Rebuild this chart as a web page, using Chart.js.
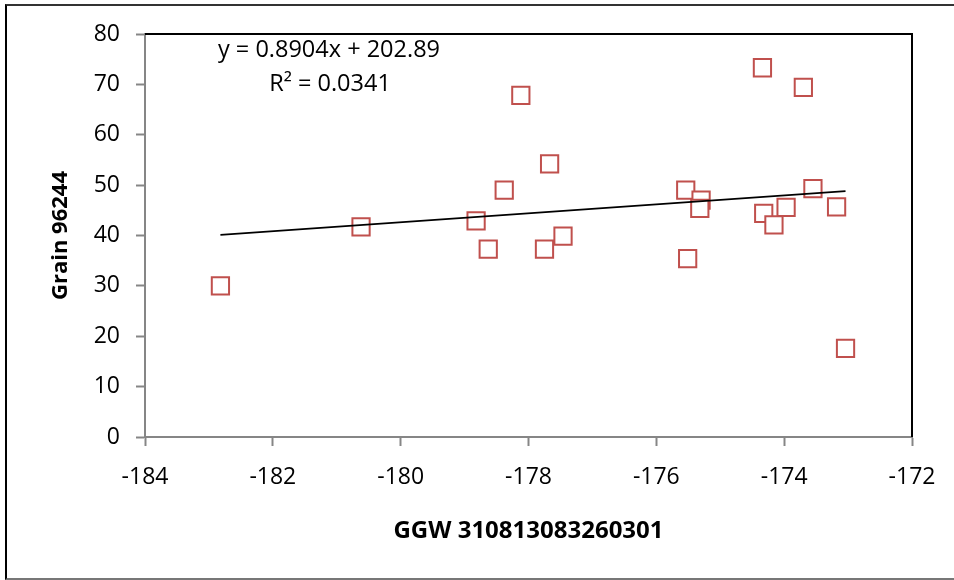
<!DOCTYPE html>
<html>
<head>
<meta charset="utf-8">
<script src="https://cdn.jsdelivr.net/npm/chart.js@4/dist/chart.umd.min.js"></script>
<style>
  html, body { margin: 0; padding: 0; background: #ffffff; }
  #wrap { position: relative; width: 954px; height: 580px; }
  #frame { position: absolute; left: 5px; top: 4px; width: 960px; height: 572px;
           border-left: 2px solid #000; border-top: 2px solid #333; border-bottom: 2px solid #777;
           pointer-events: none; }
  canvas { position: absolute; left: 0; top: 0; }
</style>
</head>
<body>
<div id="wrap">
  <canvas id="c" width="954" height="580"></canvas>
  <div id="frame"></div>
</div>
<script>
// ---- data ----
const xValues = [-182.82, -180.62, -178.82, -178.63, -178.38, -178.12, -177.67, -177.75, -177.46,
                 -175.54, -175.51, -175.30, -175.32, -174.34, -174.32, -174.16, -173.97, -173.70,
                 -173.55, -173.18, -173.04];
const yValues = [30.0, 41.7, 42.9, 37.3, 49.0, 67.8, 54.2, 37.3, 39.9,
                 49.0, 35.4, 47.0, 45.4, 73.3, 44.4, 42.1, 45.6, 69.4,
                 49.3, 45.7, 17.6];
const trendSlope = 0.8904;
const trendIntercept = 202.89;
const equationLines = ["y = 0.8904x + 202.89", "R\u00b2 = 0.0341"];
const xTitle = "GGW 310813083260301";
const yTitle = "Grain 96244";
const xTicks = [-184, -182, -180, -178, -176, -174, -172];
const yTicks = [0, 10, 20, 30, 40, 50, 60, 70, 80];

const points = xValues.map((x, i) => ({ x: x, y: yValues[i] }));
const xMin = Math.min(...xValues), xMax = Math.max(...xValues);
const trend = [xMin, xMax].map(x => ({ x: x, y: trendSlope * x + trendIntercept }));

const FONT = "'Open Sans', 'DejaVu Sans', sans-serif";
const AXIS_GREY = '#868686';

const framePlugin = {
  id: 'plotFrame',
  beforeDatasetsDraw(chart) {
    const { ctx, chartArea: a } = chart;
    ctx.save();
    ctx.strokeStyle = '#000';
    ctx.lineWidth = 2;
    ctx.beginPath();
    ctx.moveTo(a.left, a.top);
    ctx.lineTo(a.right, a.top);
    ctx.lineTo(a.right, a.bottom);
    ctx.stroke();
    ctx.restore();
  },
  afterDatasetsDraw(chart) {
    const { ctx, chartArea: a } = chart;
    ctx.save();
    ctx.fillStyle = '#000';
    ctx.font = "23.5px " + FONT;
    ctx.textAlign = 'center';
    ctx.textBaseline = 'alphabetic';
    ctx.fillText(equationLines[0], a.left + 184, a.top + 23);
    ctx.fillText(equationLines[1], a.left + 185, a.top + 57);
    ctx.restore();
  }
};

new Chart(document.getElementById('c'), {
  type: 'scatter',
  data: {
    datasets: [
      {
        label: 'Trend',
        type: 'line',
        data: trend,
        borderColor: '#000000',
        borderWidth: 1.75,
        pointRadius: 0,
        fill: false,
        order: 0
      },
      {
        label: yTitle,
        data: points,
        pointStyle: 'rect',
        pointRadius: 12.2,
        pointHoverRadius: 12.2,
        pointBorderWidth: 2,
        borderColor: '#C0504D',
        backgroundColor: '#ffffff',
        order: 1
      }
    ]
  },
  options: {
    responsive: false,
    animation: false,
    devicePixelRatio: 1,
    layout: { padding: { top: 34, right: 42, left: 0, bottom: 0 } },
    plugins: { legend: { display: false }, tooltip: { enabled: false } },
    scales: {
      x: {
        type: 'linear',
        min: -184, max: -172,
        afterBuildTicks(scale) { scale.ticks = xTicks.map(v => ({ value: v })); },
        afterFit(scale) { scale.height = 143; },
        border: { display: true, color: AXIS_GREY, width: 2 },
        grid: { drawOnChartArea: false, drawTicks: true, tickLength: 9, tickColor: AXIS_GREY, tickWidth: 2 },
        ticks: { color: '#000', padding: 18, font: { family: FONT, size: 23 }, callback: v => String(v) },
        title: { display: true, text: xTitle, color: '#000',
                 font: { family: FONT, size: 24, weight: 'bold' }, padding: { top: 0, bottom: 34 } }
      },
      y: {
        type: 'linear',
        min: 0, max: 80,
        afterBuildTicks(scale) { scale.ticks = yTicks.map(v => ({ value: v })); },
        afterFit(scale) { scale.width = 145; },
        border: { display: true, color: AXIS_GREY, width: 2 },
        grid: { drawOnChartArea: false, drawTicks: true, tickLength: 9, tickColor: AXIS_GREY, tickWidth: 2 },
        ticks: { color: '#000', padding: 16, font: { family: FONT, size: 23 }, callback: v => String(v) },
        title: { display: true, text: yTitle, color: '#000',
                 font: { family: FONT, size: 22, weight: 'bold' }, padding: { top: 48, bottom: 0 } }
      }
    }
  },
  plugins: [framePlugin]
});
</script>
</body>
</html>
